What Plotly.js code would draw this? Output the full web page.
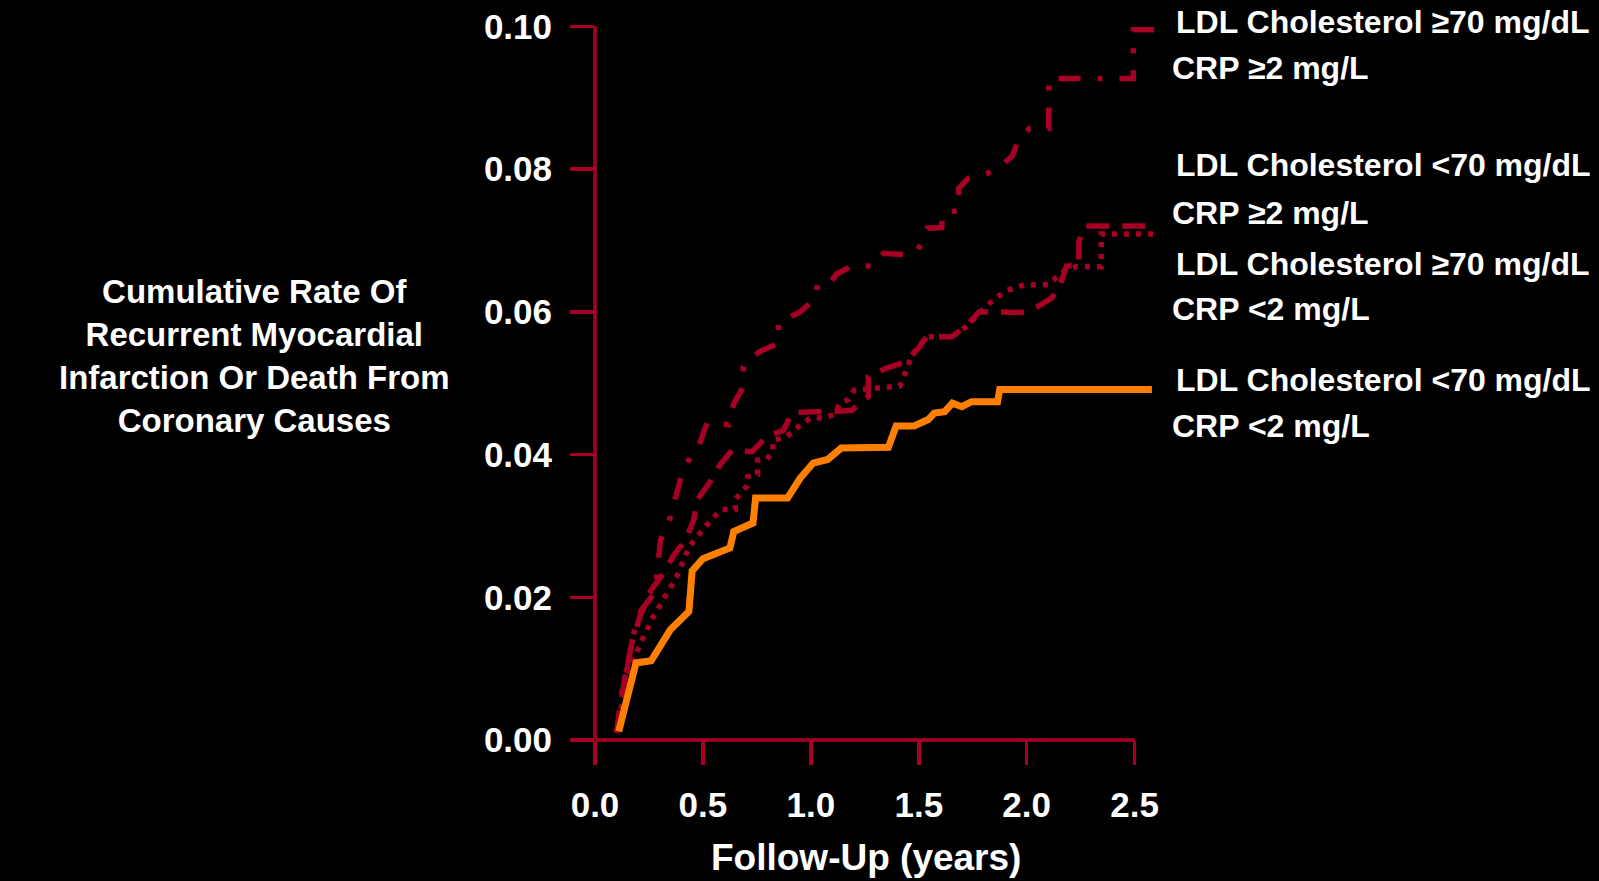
<!DOCTYPE html>
<html>
<head>
<meta charset="utf-8">
<script src="https://cdn.plot.ly/plotly-3.0.1.min.js"></script>
<style>
  html, body { margin: 0; padding: 0; background: #000; }
  #chart { width: 1599px; height: 881px; }
</style>
</head>
<body>
<div id="chart"></div>
<script>
// ---------- data ----------
// LDL >=70 mg/dL, CRP >=2 mg/L (dash-dot)
const hiLdlHiCrpX = [0.10,0.127,0.15,0.165,0.19,0.21,0.28,0.295,0.303,0.341,0.369,0.395,0.434,0.488,0.519,0.619,0.641,0.687,0.687,0.761,0.85,0.85,0.947,1.022,1.031,1.084,1.119,1.19,1.296,1.337,1.437,1.49,1.508,1.54,1.606,1.61,1.683,1.685,1.729,1.818,1.88,1.933,1.959,2.013,2.102,2.102,2.384,2.494,2.494,2.63];
const hiLdlHiCrpY = [0.001,0.0074,0.0102,0.013,0.0163,0.018,0.0208,0.0248,0.028,0.0304,0.0334,0.0364,0.0392,0.0418,0.0444,0.0442,0.047,0.0495,0.0523,0.0544,0.0556,0.0586,0.0599,0.0619,0.0638,0.0638,0.0653,0.0664,0.0664,0.0682,0.068,0.0684,0.0694,0.0717,0.0718,0.0738,0.0742,0.0773,0.0787,0.0794,0.0804,0.0818,0.0839,0.0857,0.0857,0.0927,0.0927,0.0927,0.0995,0.0995];

// LDL <70 mg/dL, CRP >=2 mg/L (dashed)
const loLdlHiCrpX = [0.10,0.14,0.17,0.21,0.26,0.318,0.365,0.419,0.457,0.473,0.534,0.58,0.635,0.727,0.796,0.873,0.912,1.0,1.105,1.19,1.266,1.266,1.35,1.44,1.498,1.537,1.652,1.72,1.78,1.99,2.05,2.115,2.153,2.184,2.242,2.242,2.269,2.57];
const loLdlHiCrpY = [0.001,0.009,0.0135,0.0175,0.021,0.0234,0.0259,0.028,0.0308,0.0336,0.0362,0.0386,0.0406,0.0404,0.0425,0.0434,0.0458,0.046,0.046,0.0462,0.0481,0.0509,0.0521,0.053,0.0549,0.0565,0.0565,0.058,0.060,0.0599,0.0607,0.0619,0.0636,0.0664,0.0665,0.0698,0.072,0.072];

// LDL >=70 mg/dL, CRP <2 mg/L (dotted)
const hiLdlLoCrpX = [0.10,0.15,0.21,0.265,0.321,0.377,0.419,0.439,0.511,0.584,0.65,0.65,0.704,0.707,0.753,0.753,0.796,0.824,0.824,0.873,0.92,0.958,1.009,1.058,1.11,1.135,1.174,1.2,1.413,1.436,1.47,1.537,1.65,1.69,1.73,1.81,1.85,1.91,1.99,2.1,2.18,2.23,2.345,2.345,2.60];
const hiLdlLoCrpY = [0.001,0.009,0.0135,0.017,0.0199,0.0228,0.0258,0.0272,0.0299,0.0323,0.0323,0.0337,0.0356,0.0369,0.0372,0.0392,0.0393,0.0404,0.042,0.0423,0.0432,0.0444,0.0452,0.0451,0.0456,0.0472,0.0477,0.049,0.0496,0.0514,0.054,0.0565,0.0565,0.0572,0.0582,0.0607,0.0618,0.063,0.0638,0.0638,0.0659,0.0663,0.0663,0.0709,0.0709];

// LDL <70 mg/dL, CRP <2 mg/L (solid orange)
const loLdlLoCrpX = [0.11,0.19,0.26,0.35,0.435,0.45,0.50,0.625,0.643,0.732,0.744,0.892,0.951,1.011,1.078,1.141,1.359,1.395,1.478,1.544,1.572,1.62,1.656,1.70,1.744,1.865,1.875,2.58];
const loLdlLoCrpY = [0.0012,0.0108,0.0111,0.0155,0.018,0.0237,0.0254,0.0269,0.0292,0.0304,0.0339,0.0339,0.0367,0.0388,0.0393,0.0409,0.041,0.044,0.044,0.0449,0.0458,0.046,0.0472,0.0467,0.0474,0.0474,0.0491,0.0491];

const xTickVals = [0, 0.5, 1.0, 1.5, 2.0, 2.5];
const yTickVals = [0, 0.02, 0.04, 0.06, 0.08, 0.10];

const seriesLabels = [
  ["LDL Cholesterol ≥70 mg/dL", "CRP ≥2 mg/L"],
  ["LDL Cholesterol <70 mg/dL", "CRP ≥2 mg/L"],
  ["LDL Cholesterol ≥70 mg/dL", "CRP <2 mg/L"],
  ["LDL Cholesterol <70 mg/dL", "CRP <2 mg/L"]
];
const yTitleLines = ["Cumulative Rate Of", "Recurrent Myocardial", "Infarction Or Death From", "Coronary Causes"];
const xTitle = "Follow-Up (years)";

// ---------- styling / layout ----------
const RED = "#A80024";
const ORANGE = "#FF8000";
const FONT = "'Liberation Sans', Arial, sans-serif";

const X_RANGE = [0, 2.65];
const Y_RANGE = [0, 0.102];
const X_AXIS_END = 2.5, Y_AXIS_END = 0.10;
const W = 1599, H = 881;
const mL = 594.5, plotW = 572.9;
const yZeroPx = 740, plotH = 727.8;
const mR = W - mL - plotW;
const mT = yZeroPx - plotH;
const mB = H - yZeroPx;

function px2x(px) { return (px - mL) / plotW; }
function px2y(py) { return (yZeroPx - py) / plotH; }

const traces = [
  { x: hiLdlHiCrpX, y: hiLdlHiCrpY, mode: "lines", name: seriesLabels[0].join(" "),
    line: { color: RED, width: 5.5, dash: "22px,17px,5px,17px" } },
  { x: loLdlHiCrpX, y: loLdlHiCrpY, mode: "lines", name: seriesLabels[1].join(" "),
    line: { color: RED, width: 5.5, dash: "23px,13px" } },
  { x: hiLdlLoCrpX, y: hiLdlLoCrpY, mode: "lines", name: seriesLabels[2].join(" "),
    line: { color: RED, width: 5.5, dash: "5px,7px" } },
  { x: loLdlLoCrpX, y: loLdlLoCrpY, mode: "lines", name: seriesLabels[3].join(" "),
    line: { color: ORANGE, width: 7 } }
];

const labelY = [[22, 68], [165.3, 212.8], [263.7, 309.5], [380.5, 426.2]];
const annotations = [];
seriesLabels.forEach((pair, i) => {
  annotations.push({ xref: "paper", yref: "paper", x: px2x(1174), y: px2y(labelY[i][0]),
    xanchor: "left", yanchor: "middle", showarrow: false, text: pair[0],
    font: { family: FONT, size: 32, color: "#fff", weight: "bold" } });
  annotations.push({ xref: "paper", yref: "paper", x: px2x(1170), y: px2y(labelY[i][1]),
    xanchor: "left", yanchor: "middle", showarrow: false, text: pair[1],
    font: { family: FONT, size: 32, color: "#fff", weight: "bold" } });
});
annotations.push({ xref: "paper", yref: "paper", x: px2x(253), y: px2y(356),
  xanchor: "center", yanchor: "middle", showarrow: false, align: "center",
  text: yTitleLines.join("<br>"),
  font: { family: FONT, size: 33, color: "#fff", weight: "bold" } });
annotations.push({ xref: "paper", yref: "paper", x: px2x(866), y: px2y(857),
  xanchor: "center", yanchor: "middle", showarrow: false, text: xTitle,
  font: { family: FONT, size: 37, color: "#fff", weight: "bold" } });

const xEndPaper = (X_AXIS_END - X_RANGE[0]) / (X_RANGE[1] - X_RANGE[0]);
const yEndPaper = (Y_AXIS_END - Y_RANGE[0]) / (Y_RANGE[1] - Y_RANGE[0]);

const layout = {
  width: W, height: H,
  paper_bgcolor: "#000", plot_bgcolor: "#000",
  margin: { l: mL, r: mR, t: mT, b: mB, pad: 0 },
  showlegend: false,
  xaxis: {
    range: X_RANGE, showgrid: false, zeroline: false, showline: false,
    tickmode: "array", tickvals: xTickVals, tickformat: ".1f",
    ticks: "outside", ticklen: 24, tickwidth: 3.5, tickcolor: RED,
    ticklabelstandoff: 10,
    tickfont: { family: FONT, size: 35, color: "#fff", weight: "bold" }
  },
  yaxis: {
    range: Y_RANGE, showgrid: false, zeroline: false, showline: false,
    tickmode: "array", tickvals: yTickVals, tickformat: ".2f",
    ticks: "outside", ticklen: 24, tickwidth: 3.5, tickcolor: RED,
    ticklabelstandoff: 11,
    tickfont: { family: FONT, size: 35, color: "#fff", weight: "bold" }
  },
  shapes: [
    { type: "line", xref: "paper", yref: "paper", x0: 0, x1: xEndPaper, y0: 0, y1: 0, layer: "below",
      line: { color: RED, width: 3.5 } },
    { type: "line", xref: "paper", yref: "paper", x0: 0, x1: 0, y0: 0, y1: yEndPaper, layer: "below",
      line: { color: RED, width: 3.5 } }
  ],
  annotations: annotations
};

Plotly.newPlot("chart", traces, layout, { displayModeBar: false, staticPlot: true });
</script>
</body>
</html>
